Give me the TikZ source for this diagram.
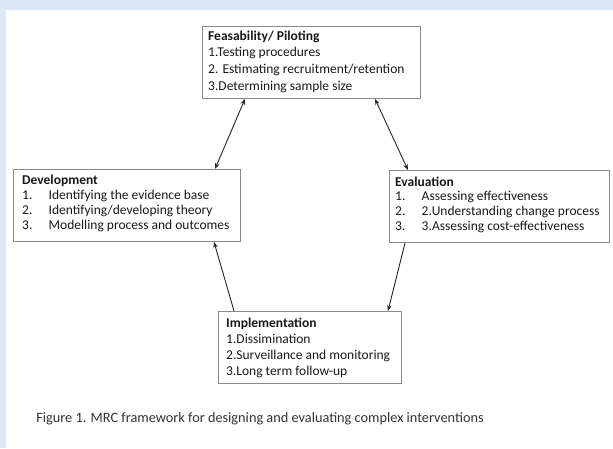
\documentclass[tikz,border=0pt]{standalone}
\usepackage{fontspec}
\setmainfont{Carlito}
\usetikzlibrary{arrows.meta}
\definecolor{bgblue}{HTML}{DDE8F6}
\definecolor{boxline}{HTML}{8A8A8A}
\definecolor{captxt}{HTML}{333333}
\tikzset{
  box/.style={draw=boxline, line width=0.9pt, anchor=north west, inner sep=0pt, fill=white},
  txt/.style={anchor=north west, inner sep=0pt, align=left, text=black!90},
  conn/.style={line width=0.9pt, black!85, -{Stealth[length=6pt,width=4.5pt]}},
  conn2/.style={line width=0.9pt, black!85, {Stealth[length=6pt,width=4.5pt]}-{Stealth[length=6pt,width=4.5pt]}}
}
\newcommand{\itm}[2]{\makebox[26.5pt][l]{#1}#2}
\begin{document}
\begin{tikzpicture}[x=1pt,y=-1pt]
\useasboundingbox (0,0) rectangle (613,448);
\fill[bgblue] (0,0) rectangle (613,448);
\fill[white] (6,10) rectangle (613,448);

\node[box, minimum width=218pt, minimum height=72pt] (feas) at (202,26) {};
\node[box, minimum width=227pt, minimum height=72pt] (dev) at (13,169) {};
\node[box, minimum width=220pt, minimum height=72pt] (eval) at (389,170) {};
\node[box, minimum width=183pt, minimum height=72pt] (impl) at (218,311) {};

\node[txt, font=\fontsize{13.5}{16.7}\selectfont] (feast) at (208,30.4) {\textbf{Feasability/ Piloting}\\1.Testing procedures\\2. Estimating recruitment/retention\\3.Determining sample size};
\node[txt, font=\fontsize{13.5}{15}\selectfont] (devt) at (22,174.4) {\textbf{Development}\\\itm{1.}{Identifying the evidence base}\\\itm{2.}{Identifying/developing theory}\\\itm{3.}{Modelling process and outcomes}};
\node[txt, font=\fontsize{13.5}{14.7}\selectfont] (evalt) at (395,176.4) {\textbf{Evaluation}\\\itm{1.}{Assessing effectiveness}\\\itm{2.}{2.Understanding change process}\\\itm{3.}{3.Assessing cost-effectiveness}};
\node[txt, font=\fontsize{13.5}{16}\selectfont] (implt) at (226,317.4) {\textbf{Implementation}\\1.Dissimination\\2.Surveillance and monitoring\\3.Long term follow-up};

\draw[conn2] ([xshift=202pt]dev.north west) -- ([xshift=43pt]feas.south west);
\draw[conn2] ([xshift=173pt]feas.south west) -- ([xshift=19pt]eval.north west);
\draw[conn] ([xshift=16pt]eval.south west) -- ([xshift=170pt]impl.north west);
\draw[conn] ([xshift=16pt]impl.north west) -- ([xshift=201pt]dev.south west);

\node[anchor=base, inner sep=0pt, text=captxt, font=\fontsize{14.3}{16}\selectfont] (cap) at (260,422) {Figure 1. MRC framework for designing and evaluating complex interventions};
\end{tikzpicture}
\end{document}
